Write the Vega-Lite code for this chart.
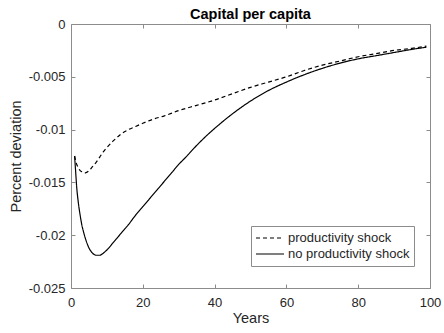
{
  "$schema": "https://vega.github.io/schema/vega-lite/v6.json",
  "width": 359,
  "height": 264,
  "autosize": {"type": "none"},
  "padding": {"left": 71, "top": 24, "right": 14, "bottom": 45},
  "background": "white",
  "title": {"text": "Capital per capita", "font": "Liberation Sans", "fontSize": 14.5, "fontWeight": "bold", "color": "black", "frame": "group", "anchor": "middle", "baseline": "alphabetic", "offset": 4.5, "dy": 20},
  "config": {
    "view": {"stroke": null},
    "axis": {"domainColor": "#8c8c8c", "tickColor": "#8c8c8c", "tickSize": -4, "grid": false, "labelFont": "Liberation Sans", "labelFontSize": 13, "labelColor": "#262626", "titleFont": "Liberation Sans", "titleFontSize": 14.5, "titleFontWeight": "normal", "titleColor": "#262626", "labelFlush": false, "labelOverlap": false}
  },
  "data": {"values": [
    {"year": 1, "value": -0.0125, "series": "no productivity shock"},
    {"year": 1.3, "value": -0.0140, "series": "no productivity shock"},
    {"year": 1.6, "value": -0.0155, "series": "no productivity shock"},
    {"year": 2, "value": -0.0168, "series": "no productivity shock"},
    {"year": 2.5, "value": -0.0180, "series": "no productivity shock"},
    {"year": 3, "value": -0.0190, "series": "no productivity shock"},
    {"year": 3.5, "value": -0.0197, "series": "no productivity shock"},
    {"year": 4, "value": -0.0203, "series": "no productivity shock"},
    {"year": 5, "value": -0.0212, "series": "no productivity shock"},
    {"year": 6, "value": -0.0217, "series": "no productivity shock"},
    {"year": 7, "value": -0.0219, "series": "no productivity shock"},
    {"year": 8, "value": -0.0219, "series": "no productivity shock"},
    {"year": 9, "value": -0.0217, "series": "no productivity shock"},
    {"year": 10, "value": -0.0214, "series": "no productivity shock"},
    {"year": 12, "value": -0.0206, "series": "no productivity shock"},
    {"year": 14, "value": -0.0198, "series": "no productivity shock"},
    {"year": 16, "value": -0.0190, "series": "no productivity shock"},
    {"year": 18, "value": -0.0181, "series": "no productivity shock"},
    {"year": 20, "value": -0.0173, "series": "no productivity shock"},
    {"year": 22, "value": -0.0165, "series": "no productivity shock"},
    {"year": 25, "value": -0.0153, "series": "no productivity shock"},
    {"year": 28, "value": -0.0141, "series": "no productivity shock"},
    {"year": 30, "value": -0.0133, "series": "no productivity shock"},
    {"year": 32, "value": -0.0126, "series": "no productivity shock"},
    {"year": 35, "value": -0.0115, "series": "no productivity shock"},
    {"year": 38, "value": -0.0105, "series": "no productivity shock"},
    {"year": 41, "value": -0.0096, "series": "no productivity shock"},
    {"year": 45, "value": -0.0085, "series": "no productivity shock"},
    {"year": 50, "value": -0.0073, "series": "no productivity shock"},
    {"year": 55, "value": -0.0063, "series": "no productivity shock"},
    {"year": 60, "value": -0.0055, "series": "no productivity shock"},
    {"year": 65, "value": -0.0048, "series": "no productivity shock"},
    {"year": 70, "value": -0.0042, "series": "no productivity shock"},
    {"year": 75, "value": -0.0037, "series": "no productivity shock"},
    {"year": 80, "value": -0.0033, "series": "no productivity shock"},
    {"year": 85, "value": -0.0030, "series": "no productivity shock"},
    {"year": 90, "value": -0.0027, "series": "no productivity shock"},
    {"year": 95, "value": -0.0024, "series": "no productivity shock"},
    {"year": 99, "value": -0.0022, "series": "no productivity shock"},
    {"year": 1, "value": -0.0125, "series": "productivity shock"},
    {"year": 1.5, "value": -0.0132, "series": "productivity shock"},
    {"year": 2, "value": -0.0136, "series": "productivity shock"},
    {"year": 3, "value": -0.0140, "series": "productivity shock"},
    {"year": 4, "value": -0.0141, "series": "productivity shock"},
    {"year": 5, "value": -0.0139, "series": "productivity shock"},
    {"year": 6, "value": -0.0135, "series": "productivity shock"},
    {"year": 7, "value": -0.0131, "series": "productivity shock"},
    {"year": 8, "value": -0.0126, "series": "productivity shock"},
    {"year": 9, "value": -0.0121, "series": "productivity shock"},
    {"year": 10, "value": -0.0117, "series": "productivity shock"},
    {"year": 12, "value": -0.0110, "series": "productivity shock"},
    {"year": 14, "value": -0.0104, "series": "productivity shock"},
    {"year": 16, "value": -0.0100, "series": "productivity shock"},
    {"year": 18, "value": -0.0097, "series": "productivity shock"},
    {"year": 20, "value": -0.0094, "series": "productivity shock"},
    {"year": 23, "value": -0.0090, "series": "productivity shock"},
    {"year": 26, "value": -0.0087, "series": "productivity shock"},
    {"year": 30, "value": -0.0082, "series": "productivity shock"},
    {"year": 35, "value": -0.0077, "series": "productivity shock"},
    {"year": 40, "value": -0.0072, "series": "productivity shock"},
    {"year": 45, "value": -0.0066, "series": "productivity shock"},
    {"year": 50, "value": -0.0060, "series": "productivity shock"},
    {"year": 55, "value": -0.0055, "series": "productivity shock"},
    {"year": 60, "value": -0.0050, "series": "productivity shock"},
    {"year": 65, "value": -0.0044, "series": "productivity shock"},
    {"year": 70, "value": -0.0039, "series": "productivity shock"},
    {"year": 75, "value": -0.0035, "series": "productivity shock"},
    {"year": 80, "value": -0.0031, "series": "productivity shock"},
    {"year": 85, "value": -0.0028, "series": "productivity shock"},
    {"year": 90, "value": -0.0025, "series": "productivity shock"},
    {"year": 95, "value": -0.0023, "series": "productivity shock"},
    {"year": 99, "value": -0.0021, "series": "productivity shock"}
  ]},
  "layer": [
    {
      "mark": {"type": "line", "color": "black", "strokeWidth": 1.2, "interpolate": "monotone"},
      "encoding": {
        "x": {"field": "year", "type": "quantitative", "scale": {"domain": [0, 100], "nice": false, "zero": false},
              "axis": {"orient": "bottom", "title": "Years", "values": [0, 20, 40, 60, 80, 100], "labelPadding": 12, "titlePadding": 2}},
        "y": {"field": "value", "type": "quantitative", "scale": {"domain": [-0.025, 0], "nice": false, "zero": false},
              "axis": {"orient": "left", "title": "Percent deviation", "values": [-0.025, -0.02, -0.015, -0.01, -0.005, 0], "labelExpr": "datum.value == 0 ? '0' : '-' + format(-datum.value, '~g')", "labelPadding": 10, "titlePadding": 5}},
        "strokeDash": {"field": "series", "type": "nominal",
              "scale": {"domain": ["productivity shock", "no productivity shock"], "range": [[4, 3], [1, 0]]},
              "legend": {"orient": "none", "legendX": 180, "legendY": 202, "title": null, "symbolType": "stroke", "symbolSize": 784, "symbolStrokeColor": "black", "symbolStrokeWidth": 1.2, "labelFont": "Liberation Sans", "labelFontSize": 13, "labelColor": "#262626", "labelOffset": 3, "strokeColor": "#8c8c8c", "fillColor": "white", "padding": 4, "clipHeight": 16, "rowPadding": 0}}
      }
    },
    {
      "mark": {"type": "line", "opacity": 0},
      "encoding": {
        "x": {"field": "year", "type": "quantitative", "axis": {"orient": "top", "labels": false, "title": null, "values": [0, 20, 40, 60, 80, 100]}},
        "y": {"field": "value", "type": "quantitative", "axis": {"orient": "right", "labels": false, "title": null, "values": [-0.025, -0.02, -0.015, -0.01, -0.005, 0]}},
        "detail": {"field": "series", "type": "nominal"}
      }
    }
  ],
  "resolve": {"axis": {"x": "independent", "y": "independent"}}
}
